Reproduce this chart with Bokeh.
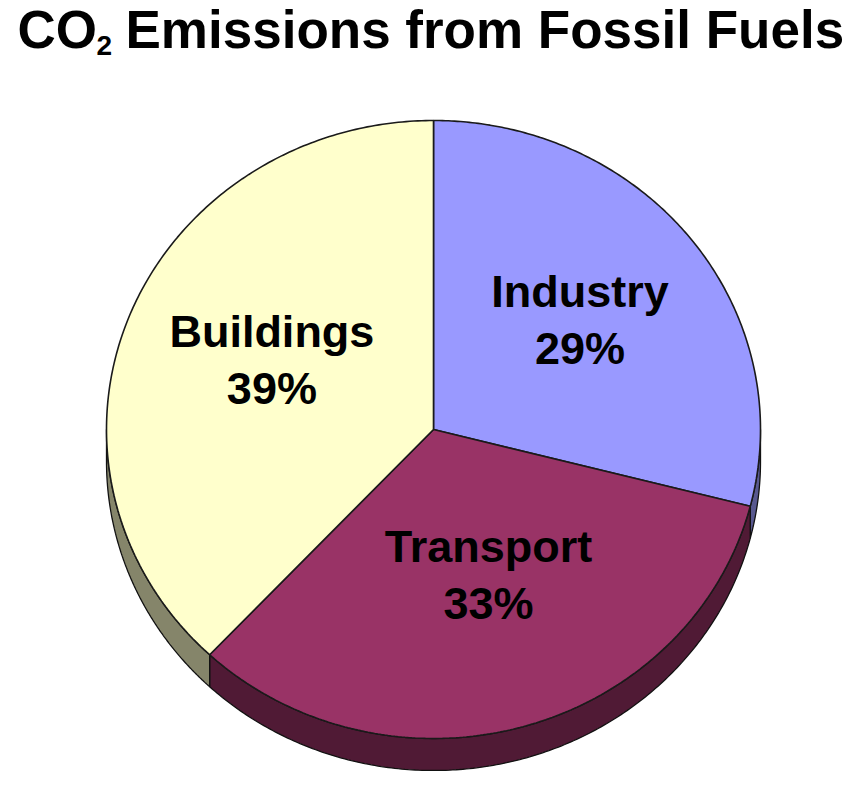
import numpy as np
from bokeh.plotting import figure
from bokeh.models import Range1d
from bokeh.embed import file_html
from bokeh.resources import INLINE
from bokeh.core.properties import value

# ---- data ----
categories = ["Industry", "Transport", "Buildings"]
shares = [29.0, 33.0, 38.0]          # angular share of the pie (percent)
pct_labels = ["29%", "33%", "39%"]   # printed labels
top_colors = ["#9999FF", "#993366", "#FFFFCC"]
side_colors = ["#58588f", "#501a35", "#85856a"]

title_main = "CO"
title_sub = "2"
title_rest = "Emissions from Fossil Fuels"

# ---- figure (data coords == screenshot pixel coords) ----
W, H = 849, 771
p = figure(width=W, height=H, x_range=Range1d(0, W), y_range=Range1d(H, 0),
           output_backend="svg", toolbar_location=None, min_border=0)
p.axis.visible = False
p.grid.visible = False
p.outline_line_color = None
p.background_fill_color = "white"
p.border_fill_color = "white"

cx, cy, rx, ry, depth = 433.0, 429.0, 327.0, 309.0, 32.0
FONT = value("Liberation Sans")
BASE_FIX = 0.41   # empirical baseline correction (fraction of font size)

total = sum(shares)
ranges = []
a = 90.0
for s in shares:
    b = a - s / total * 360.0
    ranges.append((a, b))
    a = b


def arc(a0, a1, n=200):
    t = np.radians(np.linspace(a0, a1, n))
    return cx + rx * np.cos(t), cy - ry * np.sin(t)


# ---- sides (visible lower half) ----
side_xs, side_ys, side_cols = [], [], []
for (a0, a1), col in zip(ranges, side_colors):
    hi, lo = a0, a1
    for k in (0, -360):
        s_hi = min(hi, 0 + k)
        s_lo = max(lo, -180 + k)
        if s_hi > s_lo:
            x, y = arc(s_hi, s_lo)
            side_xs.append(list(np.concatenate([x, x[::-1]])))
            side_ys.append(list(np.concatenate([y, (y + depth)[::-1]])))
            side_cols.append(col)
p.patches(side_xs, side_ys, fill_color=side_cols, line_color="#111111", line_width=1.3)

# ---- top face ----
top_xs, top_ys = [], []
for (a0, a1) in ranges:
    x, y = arc(a0, a1)
    top_xs.append([cx] + list(x))
    top_ys.append([cy] + list(y))
p.patches(top_xs, top_ys, fill_color=top_colors, line_color="#1a1a1a", line_width=1.6)

# ---- labels ----
fx, fy = 0.548, 0.525
LS = 45
lx, ly1, ly2 = [], [], []
for (a0, a1) in ranges:
    m = np.radians((a0 + a1) / 2)
    x = cx + fx * rx * np.cos(m) + 5
    yc = cy - fy * ry * np.sin(m) - 8
    lx.append(x)
    ly1.append(yc - 12 - BASE_FIX * LS)
    ly2.append(yc + 45 - BASE_FIX * LS)

p.text(x=lx, y=ly1, text=categories, text_font=FONT, text_font_style="bold",
       text_font_size=f"{LS}px", text_align="center", text_baseline="alphabetic",
       text_color="black")
p.text(x=lx, y=ly2, text=pct_labels, text_font=FONT, text_font_style="bold",
       text_font_size=f"{LS}px", text_align="center", text_baseline="alphabetic",
       text_color="black")

# ---- title ----
TS, SS = 53, 28
p.text(x=[17], y=[51 - BASE_FIX * TS], text=[title_main], text_font=FONT, text_font_style="bold",
       text_font_size=f"{TS}px", text_align="left", text_baseline="alphabetic", text_color="black")
p.text(x=[96], y=[56 - BASE_FIX * SS], text=[title_sub], text_font=FONT, text_font_style="bold",
       text_font_size=f"{SS}px", text_align="left", text_baseline="alphabetic", text_color="black")
p.text(x=[125], y=[51 - BASE_FIX * TS], text=[title_rest], text_font=FONT, text_font_style="bold",
       text_font_size=f"{TS}px", text_align="left", text_baseline="alphabetic", text_color="black")

open("out.html", "w").write(file_html(p, INLINE))
